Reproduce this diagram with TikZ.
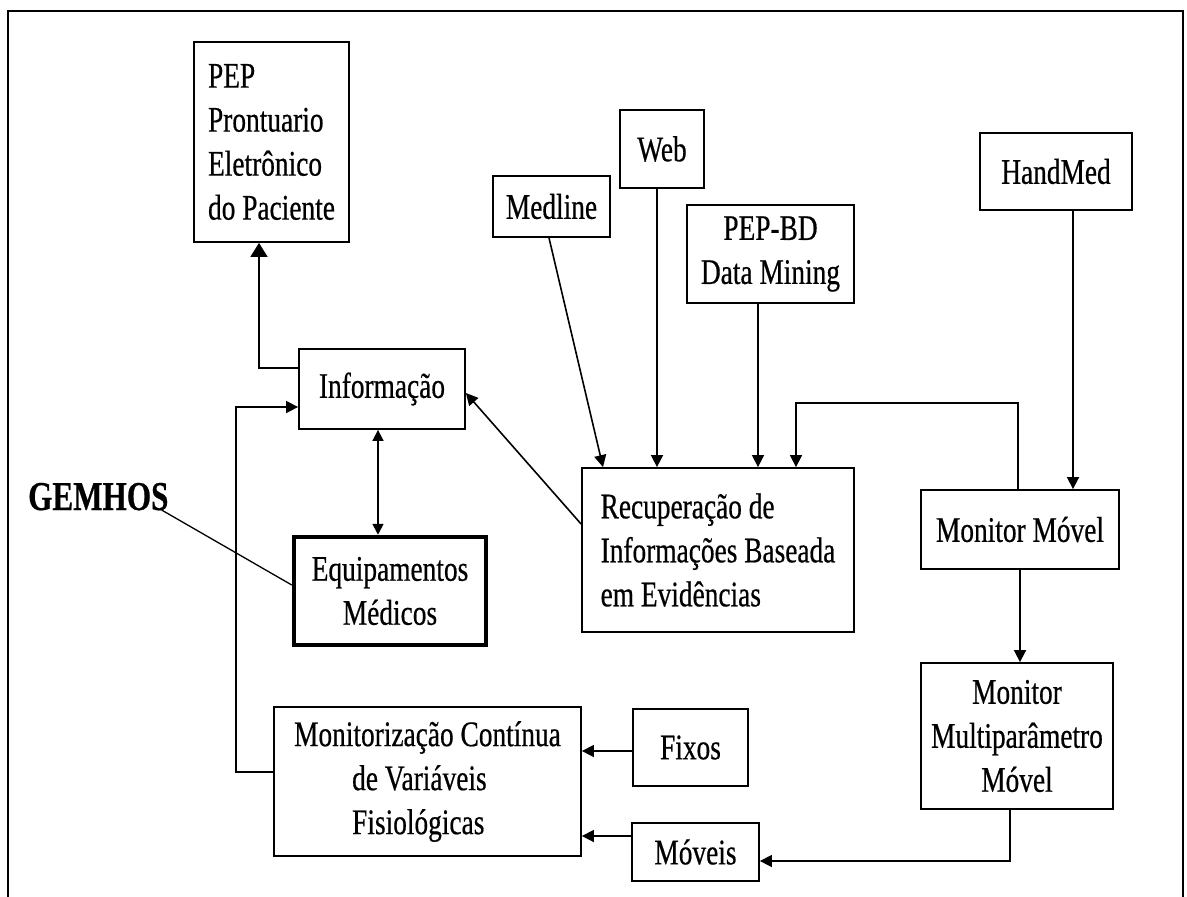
\documentclass[tikz,border=0pt]{standalone}
\usepackage{fontspec}
\setmainfont{Liberation Serif}[FakeStretch=0.76,FakeBold=0.5]
\usetikzlibrary{arrows.meta}
\begin{document}
\begin{tikzpicture}[x=1pt,y=-1pt,
  box/.style={draw, line width=1.8pt, inner sep=0pt, align=center,
    font=\fontsize{36}{44}\selectfont},
  link/.style={line width=1.6pt},
  tip/.style={-{Triangle[length=12pt,width=12pt]}},
  bigtip/.style={-{Triangle[length=14pt,width=17pt]}},
  both/.style={{Triangle[length=11pt,width=11pt]}-{Triangle[length=11pt,width=11pt]}},
]
\useasboundingbox (0,0) rectangle (1187,897);

% page frame (open at the bottom)
\draw[line width=1.4pt] (8,897) -- (8,11);
\draw[line width=1.4pt] (1183,897) -- (1183,11);
\draw[line width=2.4pt] (7.3,11) -- (1183.7,11);

% boxes
\node[box, align=left, minimum width=155pt, minimum height=200pt] (pep) at (271.5,142)
  {PEP\\Prontuario\\Eletrônico\\do Paciente};
\node[box, minimum width=166pt, minimum height=80pt] (info) at (382,389) {Informação};
\node[box, line width=4.5pt, minimum width=192pt, minimum height=108pt] (equip) at (390,591)
  {Equipamentos\\Médicos};
\node[box, align=left, minimum width=272pt, minimum height=164pt] (recup) at (718,550)
  {Recuperação de\\Informações Baseada\\em Evidências};
\node[box, minimum width=117pt, minimum height=61pt] (medline) at (551.5,206.5) {Medline};
\node[box, minimum width=84pt, minimum height=78pt] (web) at (662,149) {Web};
\node[box, minimum width=167pt, minimum height=98pt] (pepbd) at (770.5,254)
  {PEP-BD\\Data Mining};
\node[box, minimum width=152pt, minimum height=77pt] (handmed) at (1056,171.5) {HandMed};
\node[box, minimum width=198pt, minimum height=79pt] (monmov) at (1020,529.5) {Monitor Móvel};
\node[box, minimum width=192pt, minimum height=146pt] (multi) at (1017,736)
  {Monitor\\Multiparâmetro\\Móvel};
\node[box, align=left, minimum width=307pt, minimum height=149pt] (monit) at (427.5,781.5)
  {Monitorização Contínua\\\hspace*{58pt}de Variáveis\\\hspace*{58pt}Fisiológicas};
\node[box, minimum width=115pt, minimum height=77pt] (fixos) at (690.5,747.5) {Fixos};
\node[box, minimum width=127pt, minimum height=58pt] (moveis) at (695.5,852) {Móveis};

% free label
\node[inner sep=0pt, anchor=base west, font=\fontsize{41}{48}\selectfont\bfseries]
  (gemhos) at (28,510) {GEMHOS};

% connectors
\draw[link, bigtip] ([yshift=21pt]info.west) -| ([xshift=-12.5pt]pep.south);
\draw[link, tip] ([yshift=9.5pt]monit.west) -- ++(-37,0) |- ([yshift=-18pt]info.west);
\draw[link, both] ([xshift=-4pt]info.south) -- ([xshift=-4pt]info.south |- equip.north);
\draw[link, tip] ([yshift=26pt]recup.west) -- ([yshift=-4pt]info.east);
\draw[link, tip] ([xshift=-2.5pt]medline.south) -- ([xshift=-115pt]recup.north);
\draw[link, tip] ([xshift=-5pt]web.south) -- ([xshift=-5pt]web.south |- recup.north);
\draw[link, tip] ([xshift=-12.5pt]pepbd.south) -- ([xshift=-12.5pt]pepbd.south |- recup.north);
\draw[link, tip] ([xshift=-2pt]monmov.north) -- ++(0,-86) -| ([xshift=78pt]recup.north);
\draw[link, tip] ([xshift=17pt]handmed.south) -- ([xshift=17pt]handmed.south |- monmov.north);
\draw[link, tip] (monmov.south) -- (monmov.south |- multi.north);
\draw[link, tip] ([xshift=-7pt]multi.south) |- ([yshift=-9pt]moveis.east);
\draw[link, tip] ([yshift=-3.5pt]fixos.west) -- ([yshift=-3.5pt]fixos.west -| monit.east);
\draw[link, tip] ([yshift=16pt]moveis.west) -- ([yshift=16pt]moveis.west -| monit.east);
\draw[line width=1.3pt] ([xshift=-7pt]gemhos.base east) -- ([yshift=6pt]equip.west);
\end{tikzpicture}
\end{document}
